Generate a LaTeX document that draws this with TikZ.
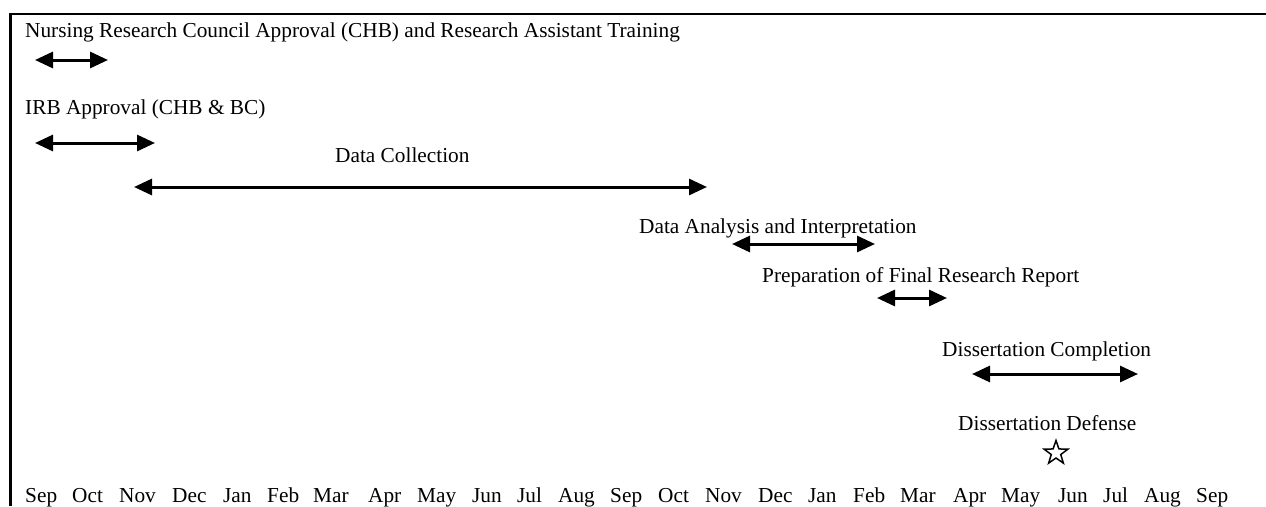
\documentclass[tikz,border=0pt]{standalone}
\usepackage{fontspec}
\setmainfont{Liberation Serif}
\usetikzlibrary{arrows.meta,shapes.geometric}
\begin{document}
\begin{tikzpicture}[x=1pt,y=-1pt,
  lbl/.style={anchor=base west,inner sep=0pt,font=\fontsize{21.3}{25}\selectfont},
  span/.style={line width=3pt,{Triangle[length=18pt,width=16pt]}-{Triangle[length=18pt,width=16pt]}},
  framel/.style={line width=2.8pt}]
\useasboundingbox (0,0) rectangle (1266,506);
% frame (top and left edges)
\coordinate (ftr) at (1266,14);
\coordinate (ftl) at (10.4,14);
\coordinate (fbl) at (10.4,506);
\draw[framel] (ftr) -- (ftl) -- (fbl);
% labels
\node[lbl] (t1) at (25,37) {Nursing Research Council Approval (CHB) and Research Assistant Training};
\node[lbl] (t2) at (25,114) {IRB Approval (CHB \& BC)};
\node[lbl] (t3) at (335,162) {Data Collection};
\node[lbl] (t4) at (639,233) {Data Analysis and Interpretation};
\node[lbl] (t5) at (762,282) {Preparation of Final Research Report};
\node[lbl] (t6) at (942,356) {Dissertation Completion};
\node[lbl] (t7) at (958,430) {Dissertation Defense};
% span end points
\coordinate (a1s) at (35,60);   \coordinate (a1e) at (108,60);
\coordinate (a2s) at (35,143);  \coordinate (a2e) at (155,143);
\coordinate (a3s) at (134,187); \coordinate (a3e) at (707,187);
\coordinate (a4s) at (732,244); \coordinate (a4e) at (875,244);
\coordinate (a5s) at (877,298); \coordinate (a5e) at (947,298);
\coordinate (a6s) at (972,374); \coordinate (a6e) at (1138,374);
\draw[span] (a1s) -- (a1e);
\draw[span] (a2s) -- (a2e);
\draw[span] (a3s) -- (a3e);
\draw[span] (a4s) -- (a4e);
\draw[span] (a5s) -- (a5e);
\draw[span] (a6s) -- (a6e);
% defense star
\node[star,star points=5,star point ratio=2.5,draw,line width=1.5pt,minimum size=25pt,inner sep=0pt] (star) at (1056,453) {};
% months
\foreach \x/\t [count=\i] in {25/Sep,72/Oct,119/Nov,172/Dec,223/Jan,267/Feb,313/Mar,368/Apr,417/May,472/Jun,517/Jul,558/Aug,610/Sep,658/Oct,705/Nov,758/Dec,808/Jan,853/Feb,900/Mar,953/Apr,1001/May,1058/Jun,1103/Jul,1144/Aug,1196/Sep}
  \node[lbl] (m\i) at (\x,502) {\t};
\end{tikzpicture}
\end{document}
